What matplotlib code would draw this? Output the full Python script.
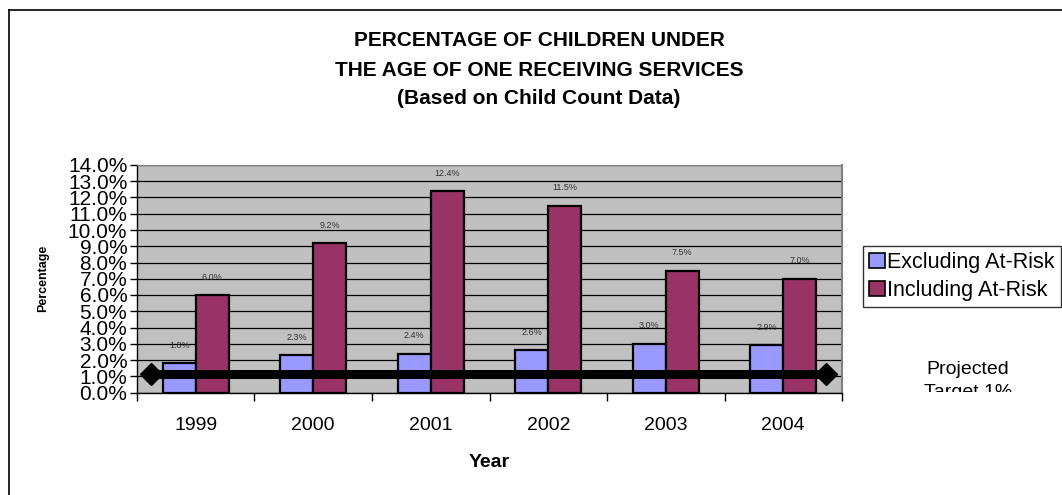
import matplotlib
matplotlib.use("Agg")
import matplotlib.pyplot as plt
from matplotlib.lines import Line2D
from matplotlib.patches import Patch
from matplotlib.transforms import Bbox, TransformedBbox
import numpy as np

plt.rcParams['font.family'] = ['Liberation Sans', 'DejaVu Sans']

years = ['1999', '2000', '2001', '2002', '2003', '2004']
excluding = [1.8, 2.3, 2.4, 2.6, 3.0, 2.9]
including = [6.0, 9.2, 12.4, 11.5, 7.5, 7.0]
series_names = ['Excluding At-Risk', 'Including At-Risk']
target_x = [-0.38, 5.36]
target_y = [1.15, 1.15]

W, H = 1062, 495
fig = plt.figure(figsize=(W / 100, H / 100), dpi=100)
fig.patch.set_facecolor('white')

# outer chart frame (left and top edges)
fig.add_artist(Line2D([9 / W, 9 / W], [0, 1 - 10 / H], color='black', lw=1.2, transform=fig.transFigure))
fig.add_artist(Line2D([9 / W, 1], [1 - 10 / H, 1 - 10 / H], color='black', lw=1.2, transform=fig.transFigure))

ax = fig.add_axes([137 / W, 102.5 / H, 705 / W, 227.5 / H])
ax.set_facecolor('#C0C0C0')

x = np.arange(len(years))
bw = 0.28
blue = '#9999FF'
purple = '#993366'

ax.set_axisbelow(True)
ax.yaxis.grid(True, color='black', lw=0.9)

ax.bar(x - bw / 2, excluding, bw, color=blue, edgecolor='black', lw=1.6, zorder=2)
ax.bar(x + bw / 2, including, bw, color=purple, edgecolor='black', lw=1.6, zorder=2)

for xi, v in zip(x - bw / 2, excluding):
    ax.text(xi, v + 1.1, f'{v:.1f}%', ha='center', va='center', fontsize=6.5, color='#333333', zorder=3)
for xi, v in zip(x + bw / 2, including):
    ax.text(xi, v + 1.1, f'{v:.1f}%', ha='center', va='center', fontsize=6.5, color='#333333', zorder=3)

ax.plot(target_x, target_y, color='black', lw=6.5, marker='D', markersize=11.5, zorder=4, clip_on=False)

ax.set_xlim(-0.5, len(years) - 0.5)
ax.set_ylim(0, 14)
ax.set_yticks(np.arange(0, 14.1, 1))
ax.set_yticklabels([f'{v:.1f}%' for v in np.arange(0, 14.1, 1)], fontsize=15)
ax.set_xticks(x)
ax.set_xticklabels(years, fontsize=14)
ax.set_xticks(np.arange(-0.5, len(years)), minor=True)
ax.tick_params(axis='x', which='major', length=0, pad=18)
ax.tick_params(axis='x', which='minor', length=6, width=1, direction='out')
ax.tick_params(axis='y', length=5, width=1, direction='out', pad=2)

for s in ['left', 'bottom']:
    ax.spines[s].set_color('black')
    ax.spines[s].set_linewidth(1)
ax.spines['top'].set_color('#808080')
ax.spines['right'].set_color('#808080')
ax.spines['right'].set_linewidth(1.5)

ax.set_xlabel('Year', fontsize=14, fontweight='bold', labelpad=14)
fig.text(43 / W, 1 - 278 / H, 'Percentage', rotation=90, ha='center', va='center',
         fontsize=9, fontweight='bold')

title_lines = ['PERCENTAGE OF CHILDREN UNDER',
               'THE AGE OF ONE RECEIVING SERVICES',
               '(Based on Child Count Data)']
for line, ypix in zip(title_lines, [40, 70, 98]):
    fig.text(539 / W, 1 - ypix / H, line, ha='center', va='center', fontsize=15, fontweight='bold')

handles = [Patch(facecolor=blue, edgecolor='black', lw=1.2),
           Patch(facecolor=purple, edgecolor='black', lw=1.2)]
leg = fig.legend(handles, series_names, loc='upper left', bbox_to_anchor=(863 / W, 1 - 246 / H),
                 fontsize=15.5, frameon=True, fancybox=False, borderaxespad=0, borderpad=0.3,
                 handlelength=0.7, handleheight=0.7, handletextpad=0.1, labelspacing=0.3)
leg.get_frame().set_edgecolor('black')
leg.get_frame().set_linewidth(1)

# target label, cut off at the plot-area bottom
t = fig.text(968 / W, 1 - 381 / H, 'Projected\nTarget 1%', ha='center', va='center', fontsize=14,
             linespacing=1.5)
clip = TransformedBbox(Bbox([[850 / W, 1 - 392 / H], [1, 1 - 350 / H]]), fig.transFigure)
t.set_clip_box(clip)
t.set_clip_on(True)

fig.savefig('out.png', dpi=100, facecolor='white')
